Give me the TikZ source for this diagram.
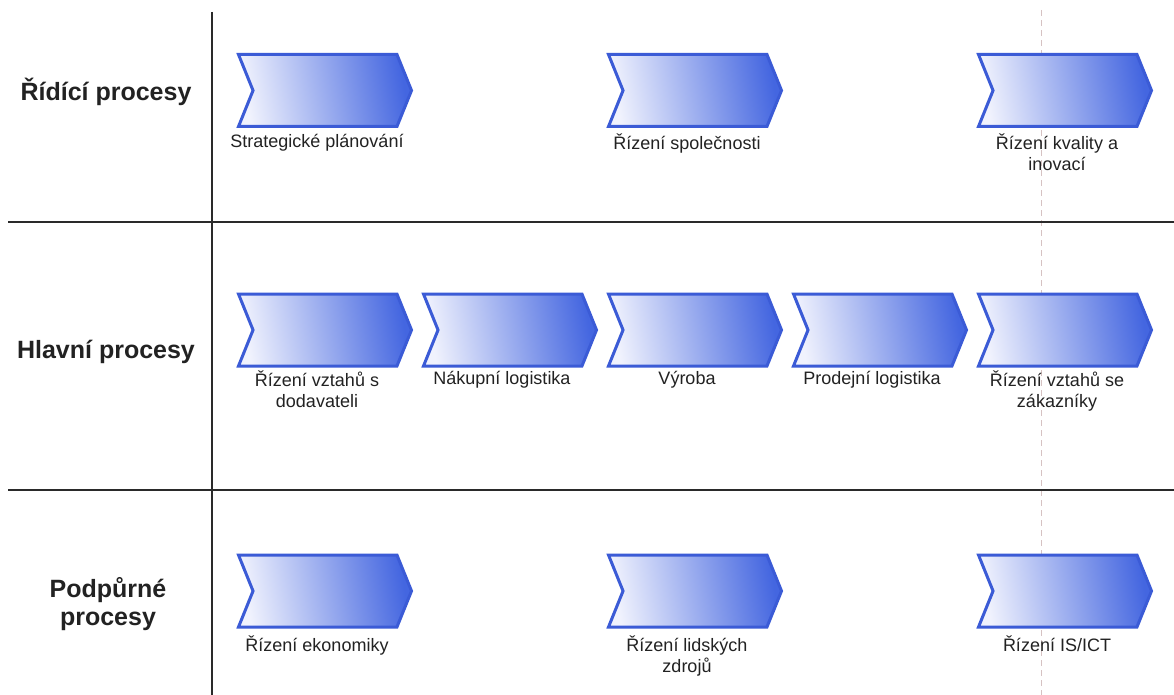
\documentclass[tikz,border=0pt]{standalone}
\usepackage{fontspec}
\setmainfont{Liberation Sans}
\usetikzlibrary{shapes.symbols}
\definecolor{chevfill}{HTML}{4466E0}
\definecolor{chevlight}{HTML}{F0F2FD}
\definecolor{chevline}{HTML}{3B5BD6}
\definecolor{rule}{HTML}{2A2A2A}
\definecolor{guide}{HTML}{D6C2C2}
\definecolor{ink}{HTML}{222222}
\tikzset{
  chevbox/.style={signal, signal from=west, signal to=east,
    signal pointer angle=136, minimum width=173pt, minimum height=72pt,
    inner sep=0pt, draw=chevline, line width=3pt,
    left color=chevlight, right color=chevfill, shading angle=100},
  steplabel/.style={anchor=north, inner sep=0pt, align=center, text=ink,
    font=\fontsize{18}{21}\selectfont},
  lanelabel/.style={inner sep=0pt, align=center, text=ink,
    font=\fontsize{25}{28}\selectfont\bfseries},
  divider/.style={draw=rule, line width=1.6pt},
  guideline/.style={draw=guide, line width=1pt, dash pattern=on 6pt off 4pt}
}
\begin{document}
\begin{tikzpicture}[x=1pt,y=-1pt]
\useasboundingbox[fill=white] (0,0) rectangle (1174,695);

% lane grid
\coordinate (vtop) at (212,12);
\coordinate (vbot) at (212,695);
\coordinate (h1l) at (8,222);
\coordinate (h1r) at (1174,222);
\coordinate (h2l) at (8,490);
\coordinate (h2r) at (1174,490);
\coordinate (gtop) at (1041,10);
\coordinate (gbot) at (1041,695);
\path[guideline] (gtop) -- (gbot);
\path[divider] (vtop) -- (vbot);
\path[divider] (h1l) -- (h1r);
\path[divider] (h2l) -- (h2r);

% lane titles
\node[lanelabel] (lane1) at (106,92) {Řídící procesy};
\node[lanelabel] (lane2) at (106,352) {Hlavní procesy};
\node[lanelabel] (lane3) at (108,604) {Podpůrné\\procesy};

% control processes
\node[chevbox] (c11) at (325,90.5) {};
\node[chevbox] (c13) at (695,90.5) {};
\node[chevbox] (c15) at (1065,90.5) {};
\node[steplabel] (l11) at (317,134) {Strategické plánování};
\node[steplabel] (l13) at (687,134) {Řízení společnosti};
\node[steplabel] (l15) at (1057,134) {Řízení kvality a\\inovací};

% core processes
\node[chevbox] (c21) at (325,330) {};
\node[chevbox] (c22) at (510,330) {};
\node[chevbox] (c23) at (695,330) {};
\node[chevbox] (c24) at (880,330) {};
\node[chevbox] (c25) at (1065,330) {};
\node[steplabel] (l21) at (317,371) {Řízení vztahů s\\dodavateli};
\node[steplabel] (l22) at (502,371) {Nákupní logistika};
\node[steplabel] (l23) at (687,371) {Výroba};
\node[steplabel] (l24) at (872,371) {Prodejní logistika};
\node[steplabel] (l25) at (1057,371) {Řízení vztahů se\\zákazníky};

% support processes
\node[chevbox] (c31) at (325,591) {};
\node[chevbox] (c33) at (695,591) {};
\node[chevbox] (c35) at (1065,591) {};
\node[steplabel] (l31) at (317,636) {Řízení ekonomiky};
\node[steplabel] (l33) at (687,636) {Řízení lidských\\zdrojů};
\node[steplabel] (l35) at (1057,636) {Řízení IS/ICT};
\end{tikzpicture}
\end{document}
